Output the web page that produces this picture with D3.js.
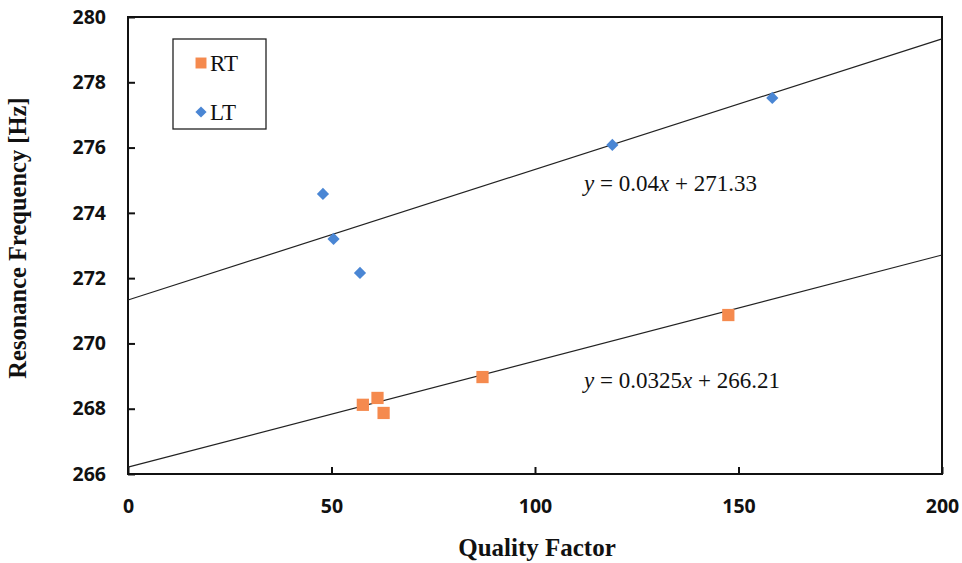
<!DOCTYPE html>
<html>
<head>
<meta charset="utf-8">
<script src="https://cdn.jsdelivr.net/npm/d3@7"></script>
<style>
  body { margin: 0; background: #fff; }
  svg { display: block; }
</style>
</head>
<body>
<svg id="chart" width="962" height="563"></svg>
<script>
// ---- data ----
const seriesNames = ["RT", "LT"];
const rtQ = [57.7, 61.3, 62.8, 87.1, 147.5];
const rtF = [268.12, 268.33, 267.87, 268.97, 270.87];
const ltQ = [47.9, 50.5, 57.0, 119.0, 158.3];
const ltF = [274.58, 273.2, 272.16, 276.08, 277.52];
const fitSlopes = [0.0325, 0.04];
const fitIntercepts = [266.21, 271.33];
const fitLabels = ["0.0325", "266.21", "0.04", "271.33"];
const xTicks = [0, 50, 100, 150, 200];
const yTicks = [266, 268, 270, 272, 274, 276, 278, 280];

const svg = d3.select("#chart");
const L = 128, R = 942, T = 17, B = 474;
const x = d3.scaleLinear().domain([0, 200]).range([L, R]);
const y = d3.scaleLinear().domain([266, 280]).range([B, T]);

const colors = { RT: "#f58a4e", LT: "#4a86d4" };

// frame
svg.append("rect").attr("x", L).attr("y", T).attr("width", R - L).attr("height", B - T)
  .attr("fill", "none").attr("stroke", "#111").attr("stroke-width", 2);

// y axis ticks (inward) + labels
const yAxis = d3.axisLeft(y).tickValues(yTicks).tickSizeInner(-7).tickSizeOuter(0).tickPadding(22);
const gy = svg.append("g").attr("transform", `translate(${L},0)`).call(yAxis);
gy.select(".domain").remove();
gy.selectAll("line").attr("stroke", "#111").attr("stroke-width", 2);
gy.selectAll("text").attr("font-family", "'Open Sans', sans-serif").attr("font-weight", "bold")
  .attr("font-size", 19.5).attr("fill", "#111");

// x axis ticks (inward) + labels
const xAxis = d3.axisBottom(x).tickValues(xTicks).tickSizeInner(-7).tickSizeOuter(0).tickPadding(25);
const gx = svg.append("g").attr("transform", `translate(0,${B})`).call(xAxis);
gx.select(".domain").remove();
gx.selectAll("line").attr("stroke", "#111").attr("stroke-width", 2);
gx.selectAll("text").attr("font-family", "'Open Sans', sans-serif").attr("font-weight", "bold")
  .attr("font-size", 19.5).attr("fill", "#111");

// trendlines
const plot = svg.append("g");
fitSlopes.forEach((m, i) => {
  const b = fitIntercepts[i];
  plot.append("line")
    .attr("x1", x(0)).attr("y1", y(b))
    .attr("x2", x(200)).attr("y2", y(m * 200 + b))
    .attr("stroke", "#222").attr("stroke-width", 1.2);
});

// markers
const rtData = rtQ.map((q, i) => ({ q, f: rtF[i] }));
const ltData = ltQ.map((q, i) => ({ q, f: ltF[i] }));
const sq = d3.symbol().type(d3.symbolSquare).size(150);
const dia = d3.symbol().type(d3.symbolDiamond2).size(95);

plot.selectAll(".rt").data(rtData).join("path").attr("class", "rt")
  .attr("d", sq).attr("transform", d => `translate(${x(d.q)},${y(d.f)})`)
  .attr("fill", colors.RT);
plot.selectAll(".lt").data(ltData).join("path").attr("class", "lt")
  .attr("d", dia).attr("transform", d => `translate(${x(d.q)},${y(d.f)})`)
  .attr("fill", colors.LT);

// equation labels
function eq(xp, yp, m, b) {
  const t = svg.append("text").attr("x", xp).attr("y", yp)
    .attr("font-family", "'Liberation Serif', 'Times New Roman', serif")
    .attr("font-size", 23).attr("fill", "#111");
  t.append("tspan").attr("font-style", "italic").text("y");
  t.append("tspan").text(" = " + m);
  t.append("tspan").attr("font-style", "italic").text("x");
  t.append("tspan").text(" + " + b);
}
eq(584, 191, fitLabels[2], fitLabels[3]);
eq(584, 388, fitLabels[0], fitLabels[1]);

// legend
const lg = svg.append("g");
lg.append("rect").attr("x", 173).attr("y", 39).attr("width", 93).attr("height", 90)
  .attr("fill", "#fff").attr("stroke", "#222").attr("stroke-width", 1.3);
const legY = [63, 112];
seriesNames.forEach((n, i) => {
  lg.append("path").attr("d", i === 0 ? d3.symbol().type(d3.symbolSquare).size(120)() : d3.symbol().type(d3.symbolDiamond2).size(80)())
    .attr("transform", `translate(201,${legY[i]})`).attr("fill", colors[n]);
  lg.append("text").attr("x", 210).attr("y", legY[i] + 8)
    .attr("font-family", "'Liberation Serif', 'Times New Roman', serif")
    .attr("font-size", 23).attr("fill", "#111").text(n);
});

// axis titles
svg.append("text").attr("x", 537).attr("y", 556).attr("text-anchor", "middle")
  .attr("font-family", "'Liberation Serif', 'Times New Roman', serif").attr("font-weight", "bold")
  .attr("font-size", 25).attr("fill", "#111").text("Quality Factor");
svg.append("text").attr("transform", "translate(26,238) rotate(-90)").attr("text-anchor", "middle")
  .attr("font-family", "'Liberation Serif', 'Times New Roman', serif").attr("font-weight", "bold")
  .attr("font-size", 24.5).attr("fill", "#111").text("Resonance Frequency [Hz]");
</script>
</body>
</html>
